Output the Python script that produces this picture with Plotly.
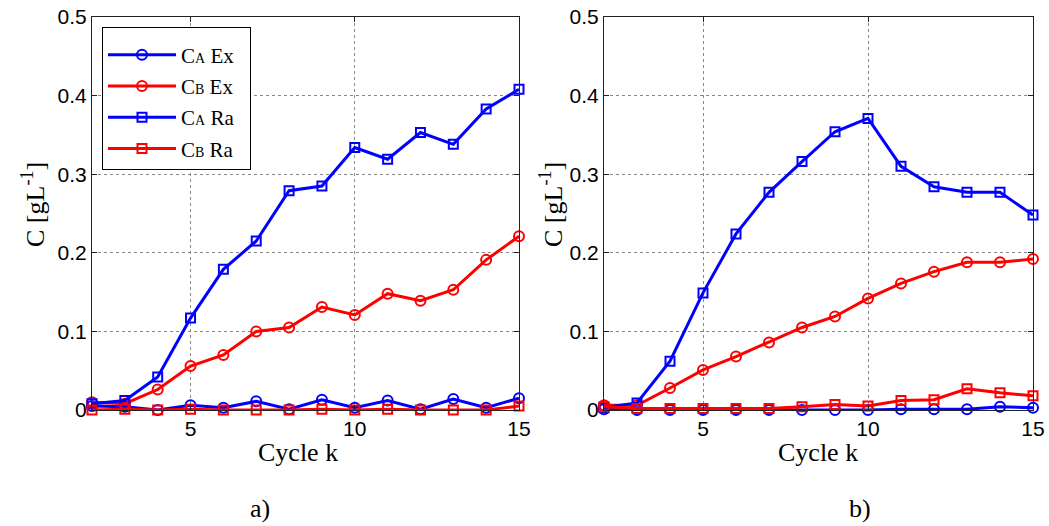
import plotly.graph_objects as go

cycles = list(range(2, 16))

# Panel a)
a_CA_Ex = [0.005, 0.004, 0.000, 0.006, 0.003, 0.011, 0.001, 0.013, 0.003, 0.012, 0.001, 0.014, 0.003, 0.015]
a_CB_Ex = [0.010, 0.008, 0.026, 0.056, 0.070, 0.100, 0.105, 0.131, 0.121, 0.148, 0.139, 0.153, 0.191, 0.221]
a_CA_Ra = [0.008, 0.012, 0.042, 0.117, 0.179, 0.215, 0.279, 0.285, 0.334, 0.319, 0.353, 0.338, 0.383, 0.408]
a_CB_Ra = [0.000, 0.001, 0.000, 0.001, 0.000, 0.000, 0.000, 0.001, 0.000, 0.001, 0.000, 0.000, 0.000, 0.005]

# Panel b)
b_CA_Ex = [0.001, 0.000, 0.000, 0.000, 0.000, 0.000, 0.000, 0.000, 0.000, 0.001, 0.001, 0.001, 0.004, 0.003]
b_CB_Ex = [0.006, 0.006, 0.028, 0.051, 0.068, 0.086, 0.105, 0.119, 0.142, 0.161, 0.176, 0.188, 0.188, 0.192]
b_CA_Ra = [0.003, 0.009, 0.062, 0.149, 0.224, 0.277, 0.316, 0.354, 0.371, 0.310, 0.284, 0.277, 0.277, 0.248]
b_CB_Ra = [0.004, 0.002, 0.002, 0.002, 0.002, 0.002, 0.004, 0.007, 0.005, 0.012, 0.013, 0.027, 0.022, 0.018]

x_ticks = [5, 10, 15]
y_ticks = [0, 0.1, 0.2, 0.3, 0.4, 0.5]
y_ticklabels = ["0", "0.1", "0.2", "0.3", "0.4", "0.5"]

PAD = "&nbsp;" * 2
names = [
    "C<span style='font-size:14px'>A</span> Ex" + PAD,
    "C<span style='font-size:14px'>B</span> Ex" + PAD,
    "C<span style='font-size:14px'>A</span> Ra" + PAD,
    "C<span style='font-size:14px'>B</span> Ra" + PAD,
]
BLUE = "#0000FF"
RED = "#FF0000"
styles = [(BLUE, "circle-open", 10), (RED, "circle-open", 10), (BLUE, "square-open", 9), (RED, "square-open", 9)]

fig = go.Figure()

def add_panel(series, xa, ya, showlegend):
    for i, (s, name, (col, sym, sz)) in enumerate(zip(series, names, styles)):
        fig.add_trace(go.Scatter(
            x=cycles, y=s, xaxis=xa, yaxis=ya, name=name,
            legendgroup=f"g{i}",
            mode="lines+markers", showlegend=showlegend, cliponaxis=False,
            line=dict(color=col, width=3),
            marker=dict(symbol=sym, size=sz, color=col, line=dict(color=col, width=2)),
        ))

add_panel([a_CA_Ex, a_CB_Ex, a_CA_Ra, a_CB_Ra], "x", "y", True)
add_panel([b_CA_Ex, b_CB_Ex, b_CA_Ra, b_CB_Ra], "x2", "y2", False)

W, H = 1049, 526

def px(x):
    return x / W

def py(y):
    return 1 - y / H

ydom = [py(410), py(17)]

axis_common = dict(
    showline=True, linecolor="#222", linewidth=1, mirror="ticks",
    ticks="inside", ticklen=5, tickcolor="#222",
    showgrid=True, gridcolor="#888", griddash="dot", gridwidth=1,
    zeroline=False, automargin=False, ticklabeloverflow="allow",
    tickfont=dict(family="Liberation Sans, Arial", size=21, color="black"),
)

fig.update_layout(
    width=W, height=H,
    margin=dict(l=0, r=0, t=0, b=0),
    paper_bgcolor="white", plot_bgcolor="white",
    xaxis=dict(domain=[px(92), px(519)], range=[2, 15], tickvals=x_ticks, anchor="y", **axis_common),
    yaxis=dict(domain=ydom, range=[0, 0.5], tickvals=y_ticks, ticktext=y_ticklabels, anchor="x", **axis_common),
    xaxis2=dict(domain=[px(604), px(1033)], range=[2, 15], tickvals=x_ticks, anchor="y2", **axis_common),
    yaxis2=dict(domain=ydom, range=[0, 0.5], tickvals=y_ticks, ticktext=y_ticklabels, anchor="x2", **axis_common),
    legend=dict(
        x=px(102), y=py(27), xanchor="left", yanchor="top",
        bordercolor="black", borderwidth=1, bgcolor="white",
        font=dict(family="Liberation Serif, Times New Roman", size=21, color="black"),
        title=dict(text=" ", font=dict(size=5)),
        itemwidth=68, tracegroupgap=1, traceorder="grouped",
    ),
)

serif = dict(family="Liberation Serif, Times New Roman", size=26, color="black")
ann = []
for cx in [33, 551]:
    ann.append(dict(text="C [gL<sup>-1</sup>]", x=px(cx), y=py(205), xref="paper", yref="paper",
                    showarrow=False, textangle=-90, font=serif, xanchor="center", yanchor="middle"))
for cx in [298, 818]:
    ann.append(dict(text="Cycle k", x=px(cx), y=py(452), xref="paper", yref="paper",
                    showarrow=False, font=serif, xanchor="center", yanchor="middle"))
for cx, t in [(260, "a)"), (860, "b)")]:
    ann.append(dict(text=t, x=px(cx), y=py(508), xref="paper", yref="paper",
                    showarrow=False, font=serif, xanchor="center", yanchor="middle"))
fig.update_layout(annotations=ann)

fig.write_html(
    "out.html",
    config={"displayModeBar": False},
    post_script="document.body.style.margin='0';document.body.style.overflow='hidden';",
)
